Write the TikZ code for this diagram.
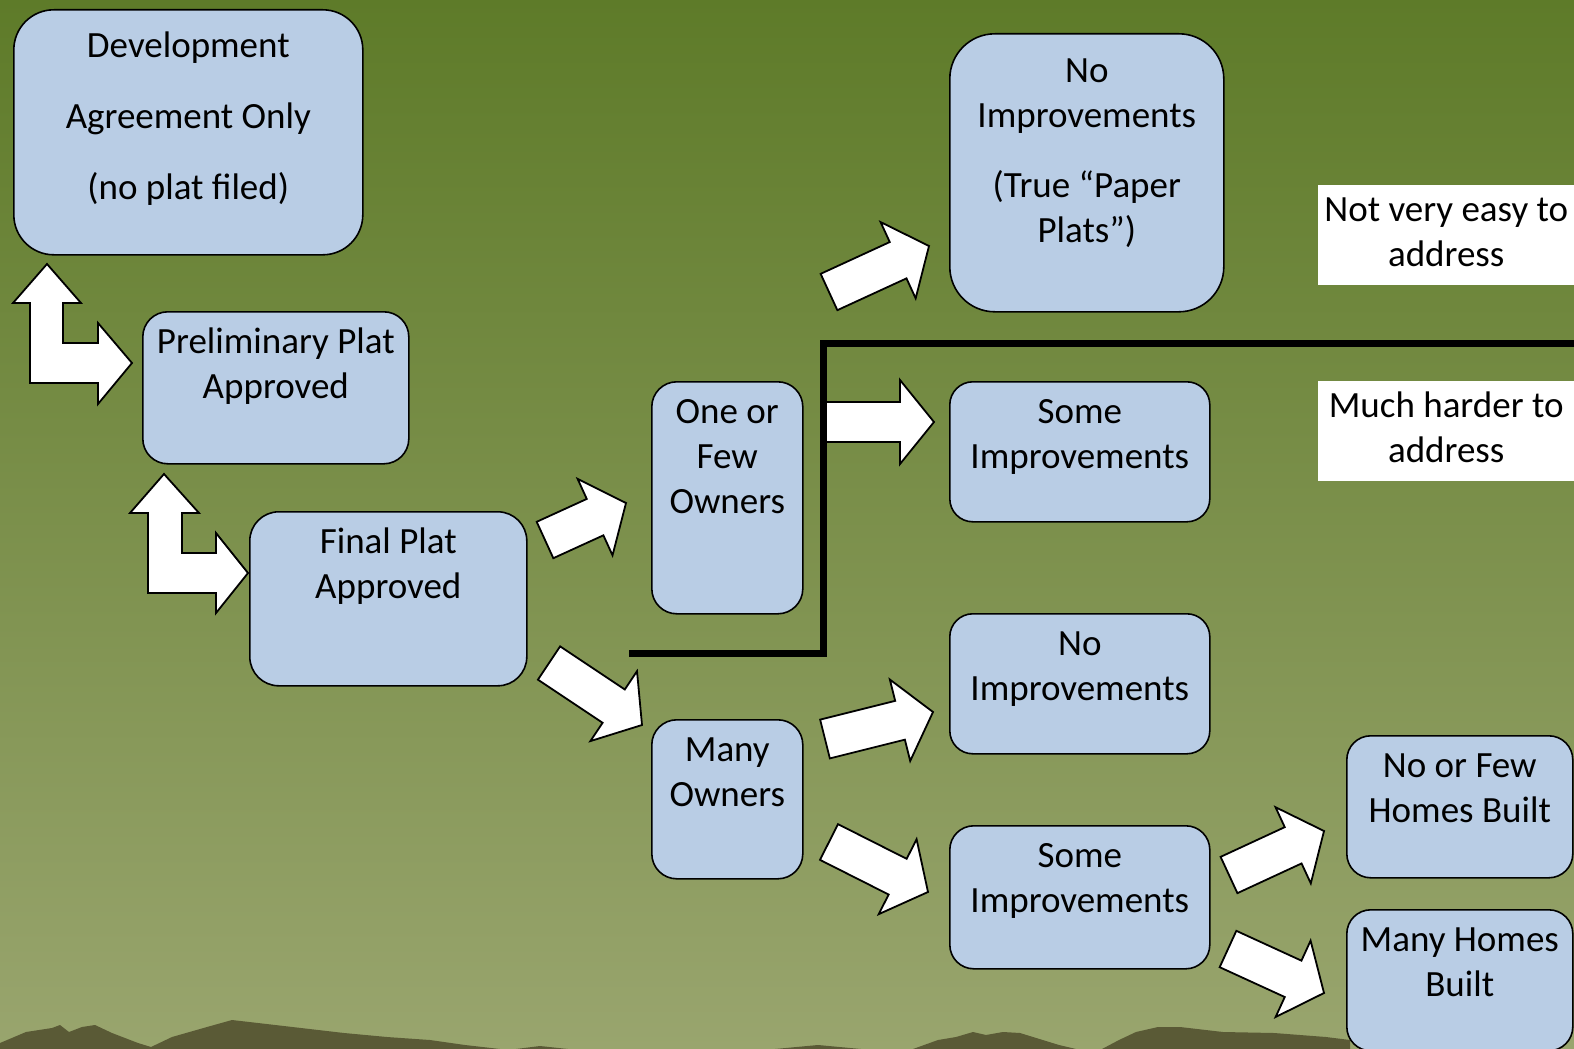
\documentclass[tikz,border=0pt]{standalone}
\usepackage{fontspec}
\setmainfont{Carlito}
\usetikzlibrary{calc}

\definecolor{bgtop}{RGB}{94,123,41}
\definecolor{bgbot}{RGB}{153,165,110}
\definecolor{hill}{RGB}{90,90,54}
\definecolor{boxblue}{RGB}{185,205,229}

\newcommand\boxfont{\fontsize{37}{45}\selectfont}

\tikzset{
  box/.style={draw=black, line width=1.6pt, fill=boxblue, rounded corners=#1,
    anchor=north west, inner sep=0pt},
  txt/.style={anchor=north, align=center, inner sep=0pt, font=\boxfont},
  note/.style={fill=white, anchor=north west, inner sep=0pt},
  arrowshape/.style={draw=black, line width=1.8pt, fill=white, line join=miter},
}

% wide white arrow from #1 to #2
\newcommand\blockarrow[2]{%
  \coordinate (ah) at ($(#2)!34pt!(#1)$);
  \draw [arrowshape] ($(#1)!20pt!90:(#2)$) -- ($(ah)!20pt!90:(#2)$)
    -- ($(ah)!42pt!90:(#2)$) -- (#2) -- ($(ah)!42pt!-90:(#2)$)
    -- ($(ah)!20pt!-90:(#2)$) -- ($(#1)!20pt!-90:(#2)$) -- cycle;
}

\begin{document}
\begin{tikzpicture}[x=1pt, y=-1pt]

\useasboundingbox (0,0) rectangle (1574,1049);
\clip (0,0) rectangle (1574,1049);

% Background
\fill [top color=bgtop, bottom color=bgbot] (0,0) rectangle (1574,1049);

% Hills along the bottom
\fill [hill] (0,1049) -- (0,1043) -- (26,1032) -- (52,1028) -- (60,1025) -- (69,1032)
  -- (82,1027) -- (95,1025) -- (112,1033) -- (138,1043) -- (151,1047) -- (172,1037)
  -- (207,1027) -- (232,1020) -- (258,1023) -- (301,1028) -- (344,1033) -- (387,1037)
  -- (430,1040) -- (465,1045) -- (500,1049) -- cycle;
\fill [hill] (516,1049) -- (540,1046) -- (568,1049) -- cycle;
\fill [hill] (775,1049) -- (818,1045) -- (861,1049) -- cycle;
\fill [hill] (913,1049) -- (938,1040) -- (956,1037) -- (973,1032) -- (986,1035)
  -- (1003,1032) -- (1020,1033) -- (1033,1037) -- (1059,1045) -- (1076,1049) -- cycle;
\fill [hill] (1102,1049) -- (1119,1040) -- (1136,1032) -- (1158,1027) -- (1180,1027)
  -- (1223,1032) -- (1274,1033) -- (1326,1037) -- (1350,1040) -- (1350,1049) -- cycle;

% Bent double arrows
\draw [arrowshape] (47,264) -- (81,303) -- (63,303) -- (63,343) -- (98,343) -- (98,323)
  -- (132,363) -- (98,404) -- (98,383) -- (30,383) -- (30,303) -- (13,303) -- cycle;
\draw [arrowshape] (164,474) -- (199,513) -- (182,513) -- (182,553) -- (216,553) -- (216,533)
  -- (248,573) -- (216,613) -- (216,593) -- (148,593) -- (148,513) -- (130,513) -- cycle;

% Arrow ends
\coordinate (finalA) at (545,540);   \coordinate (fewB) at (626,503);
\coordinate (finalC) at (549,663);   \coordinate (manyB) at (642,725);
\coordinate (lineA) at (829,292);    \coordinate (paperB) at (929,246);
\coordinate (lineC) at (822,422);    \coordinate (someAB) at (934,422);
\coordinate (manyA) at (825,739);    \coordinate (noimpB) at (933,712);
\coordinate (manyC) at (829,842);    \coordinate (someBB) at (928,892);
\coordinate (someBA) at (1229,875);  \coordinate (fewhB) at (1324,831);
\coordinate (someBC) at (1228,949);  \coordinate (manyhB) at (1324,993);

\blockarrow{finalA}{fewB}
\blockarrow{finalC}{manyB}
\blockarrow{lineA}{paperB}
\blockarrow{lineC}{someAB}
\blockarrow{manyA}{noimpB}
\blockarrow{manyC}{someBB}
\blockarrow{someBA}{fewhB}
\blockarrow{someBC}{manyhB}

% Dividing line
\draw [line width=7pt] (1574,343) -- (823,343) -- (823,653) -- (629,653);

% Boxes
\node [box=40pt, minimum width=349pt, minimum height=245pt,
  label={[txt, yshift=-16.5pt]north:{\strut Development\\[26pt]Agreement Only\\[26pt](no plat filed)}}]
  (dev) at (13,9) {};
\node [box=25pt, minimum width=266pt, minimum height=152pt,
  label={[txt, yshift=-10.5pt]north:{\strut Preliminary Plat\\Approved}}] (prelim) at (142,311) {};
\node [box=29pt, minimum width=277pt, minimum height=174pt,
  label={[txt, yshift=-10.5pt]north:{\strut Final Plat\\Approved}}] (final) at (249,511) {};
\node [box=25pt, minimum width=151pt, minimum height=232pt,
  label={[txt, yshift=-10.5pt]north:{\strut One or\\Few\\Owners}}] (few) at (651,381) {};
\node [box=25pt, minimum width=151pt, minimum height=159pt,
  label={[txt, yshift=-10.5pt]north:{\strut Many\\Owners}}] (many) at (651,719) {};
\node [box=45pt, minimum width=274pt, minimum height=278pt,
  label={[txt, yshift=-17.5pt]north:{\strut No\\Improvements\\[25pt](True “Paper\\Plats”)}}]
  (paper) at (949,33) {};
\node [box=23pt, minimum width=260pt, minimum height=140pt,
  label={[txt, yshift=-10.5pt]north:{\strut Some\\Improvements}}] (someA) at (949,381) {};
\node [box=23pt, minimum width=260pt, minimum height=140pt,
  label={[txt, yshift=-10.5pt]north:{\strut No\\Improvements}}] (noimp) at (949,613) {};
\node [box=24pt, minimum width=260pt, minimum height=143pt,
  label={[txt, yshift=-10.5pt]north:{\strut Some\\Improvements}}] (someB) at (949,825) {};
\node [box=24pt, minimum width=226pt, minimum height=142pt,
  label={[txt, yshift=-10.5pt]north:{\strut No or Few\\Homes Built}}] (fewh) at (1346,735) {};
\node [box=24pt, minimum width=226pt, minimum height=141pt,
  label={[txt, yshift=-10.5pt]north:{\strut Many Homes\\Built}}] (manyh) at (1346,909) {};

% Notes on the right
\node [note, minimum width=256pt, minimum height=100pt,
  label={[txt, yshift=-4.5pt]north:{\strut Not very easy to\\address}}] (easy) at (1318,185) {};
\node [note, minimum width=256pt, minimum height=100pt,
  label={[txt, yshift=-4.5pt]north:{\strut Much harder to\\address}}] (hard) at (1318,381) {};

\end{tikzpicture}
\end{document}
